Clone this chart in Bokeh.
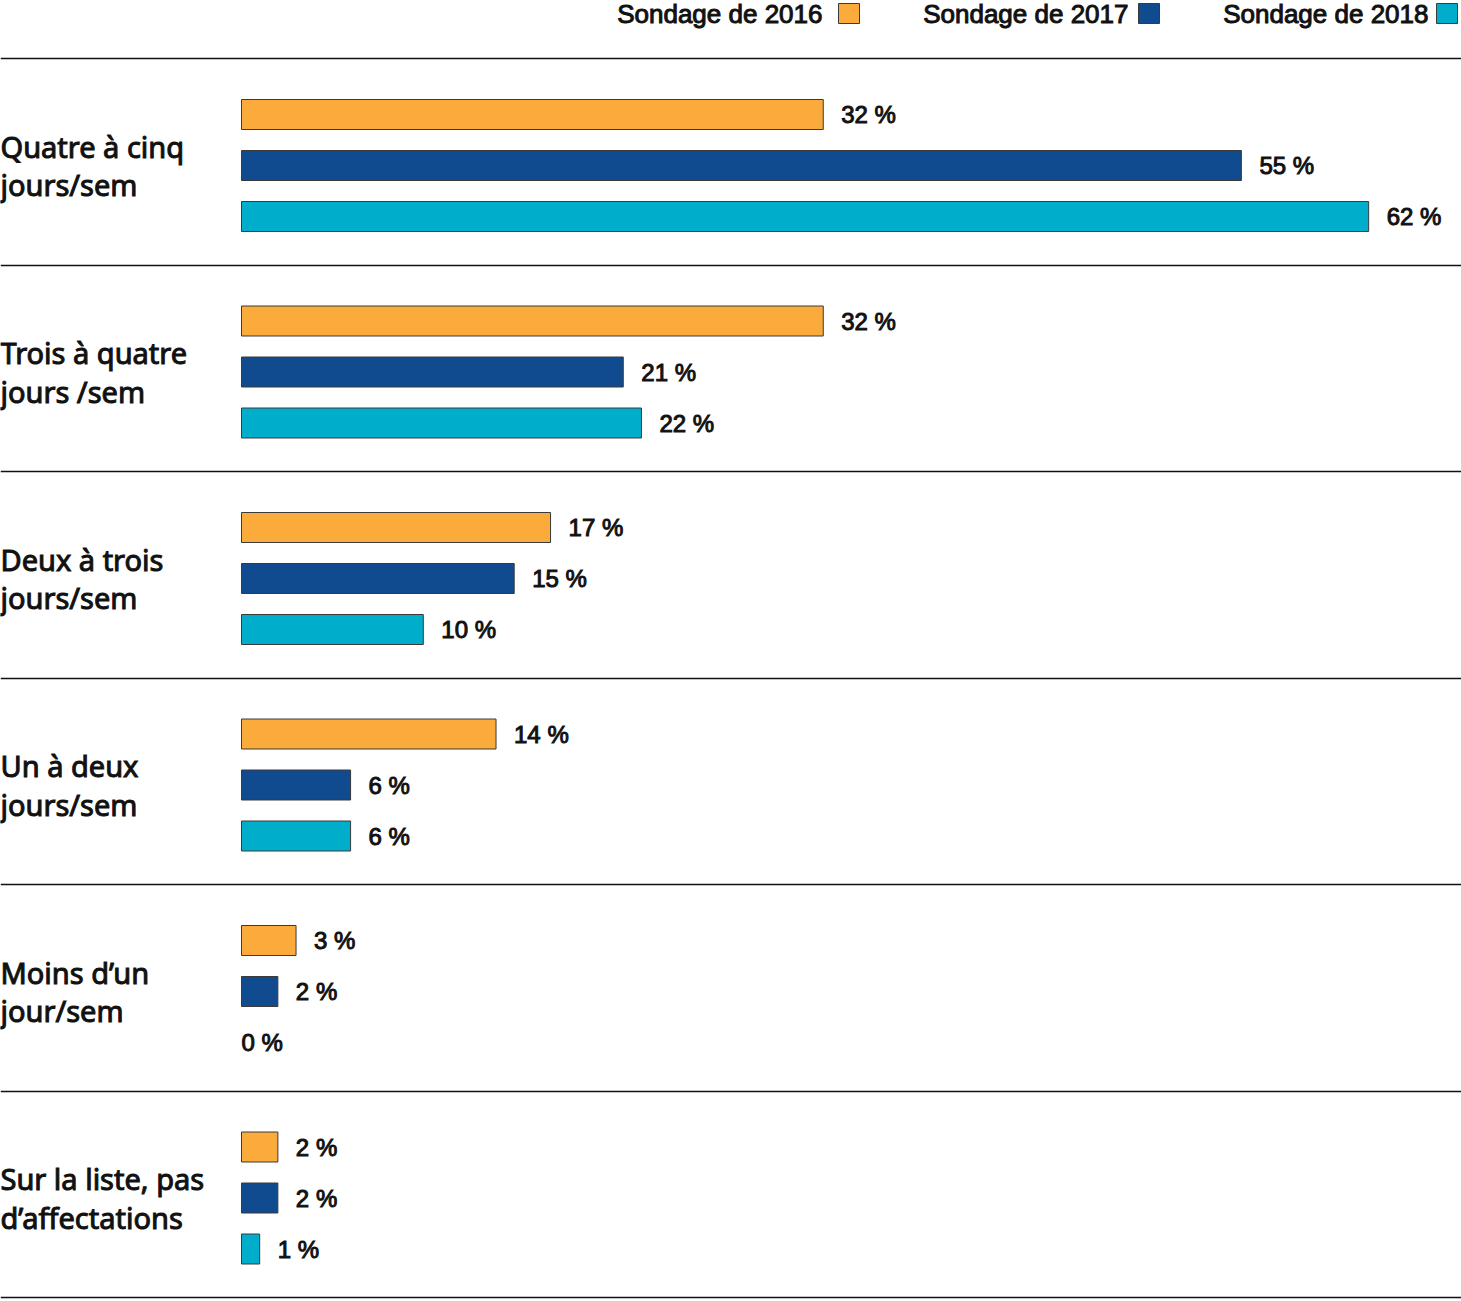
from bokeh.plotting import figure
from bokeh.models import Range1d, ColumnDataSource
from bokeh.core.properties import value
from bokeh.embed import file_html
from bokeh.resources import INLINE

# --- data
categories = [
    "Quatre à cinq\njours/sem",
    "Trois à quatre\njours /sem",
    "Deux à trois\njours/sem",
    "Un à deux\njours/sem",
    "Moins d’un\njour/sem",
    "Sur la liste, pas\nd’affectations",
]
series = ["Sondage de 2016", "Sondage de 2017", "Sondage de 2018"]
s2016 = [32, 32, 17, 14, 3, 2]
s2017 = [55, 21, 15, 6, 2, 2]
s2018 = [62, 22, 10, 6, 0, 1]
colors = ["#FBAA3C", "#114B8F", "#00AECB"]

# --- layout (pixels)
W, H = 1461, 1301
X0 = 241          # pixel where 0 % sits
K = 18.18         # pixels per percent
TOP = 58          # first separator
STEP = 206.5      # group height
BAR_OFF = [56, 107, 158]
BAR_H = 30
LAB_GAP = 18


def px(xp):
    return (xp - X0) / K


p = figure(width=W, height=H, output_backend="svg", toolbar_location=None,
           x_range=Range1d(px(0), px(W)), y_range=Range1d(H, 0),
           x_axis_location=None, y_axis_location=None, min_border=0)
p.grid.visible = False
p.outline_line_color = None

# separators
p.hspan(y=[TOP + i * STEP for i in range(len(categories) + 1)],
        line_color="#111111", line_width=1.3)

# bars + value labels
for j, vals in enumerate([s2016, s2017, s2018]):
    ys = [TOP + i * STEP + BAR_OFF[j] for i in range(len(categories))]
    bars = [(y, v) for y, v in zip(ys, vals) if v > 0]
    src = ColumnDataSource(dict(y=[b[0] for b in bars], v=[b[1] for b in bars]))
    p.hbar(y="y", left=0, right="v", height=BAR_H, source=src,
           fill_color=colors[j], line_color="#3a3a3a", line_width=1)
    lab = ColumnDataSource(dict(
        x=[v + LAB_GAP / K if v > 0 else 0 for v in vals],
        y=ys,
        t=[f"{v} %" for v in vals],
    ))
    p.text(x="x", y="y", text="t", source=lab, text_font=value("Liberation Sans"),
           text_font_size="24px", text_baseline="middle", text_color="#111111",
           text_outline_color="#111111")

# category labels
cat = ColumnDataSource(dict(
    x=[px(0)] * len(categories),
    y=[TOP + i * STEP + BAR_OFF[1] for i in range(len(categories))],
    t=categories,
))
p.text(x="x", y="y", text="t", source=cat, text_font=value("Noto Sans"),
       text_font_size="29px", text_baseline="middle", text_line_height=0.98,
       text_color="#111111", text_outline_color="#111111")

# legend
leg_text_end = [822, 1128, 1428]
leg_sq = [848.5, 1148.5, 1446.5]
leg = ColumnDataSource(dict(
    x=[px(e) for e in leg_text_end],
    sx=[px(s) for s in leg_sq],
    y=[13, 13, 13],
    t=series,
    c=colors,
))
p.text(x="x", y="y", text="t", source=leg, text_font=value("Liberation Sans"),
       text_font_size="26px", text_baseline="middle", text_align="right",
       text_color="#111111", text_outline_color="#111111")
p.rect(x="sx", y="y", width=21 / K, height=20, source=leg, fill_color="c",
       line_color="#3a3a3a", line_width=1)

open("out.html", "w").write(file_html(p, INLINE))
